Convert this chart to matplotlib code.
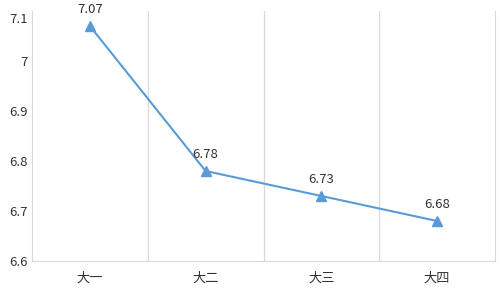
import matplotlib.pyplot as plt
import matplotlib.transforms as mtransforms
import numpy as np

plt.rcParams['font.family'] = ['Noto Sans CJK SC', 'DejaVu Sans']

grades = ["大一", "大二", "大三", "大四"]
scores = [7.07, 6.78, 6.73, 6.68]
yticks = [6.6, 6.7, 6.8, 6.9, 7.0, 7.1]
ytick_labels = ["6.6", "6.7", "6.8", "6.9", "7", "7.1"]

fig = plt.figure(figsize=(5, 2.9), dpi=100)
ax = fig.add_axes((0.064, 0.1, 0.926, 0.862))

x = np.arange(len(grades))
color = "#5B9BD5"
ax.plot(x, scores, color=color, lw=1.5, marker="^", markersize=6.5, clip_on=False)
for xi, yi in zip(x, scores):
    ax.annotate(f"{yi:.2f}", (xi, yi), xytext=(0, 7), textcoords="offset points",
                ha="center", va="bottom", fontsize=9.5, color="#333333")

ax.set_xlim(-0.5, len(grades) - 0.5)
ax.set_ylim(6.6, 7.1)
ax.set_yticks(yticks)
ax.set_yticklabels(ytick_labels)
ax.set_xticks(x)
ax.set_xticklabels(grades)
for b in np.arange(0.5, len(grades) - 1, 1):
    ax.axvline(b, color="#D9D9D9", lw=0.9, zorder=0)

for side in ["left", "bottom", "right"]:
    ax.spines[side].set_color("#D9D9D9")
ax.spines["top"].set_visible(False)
ax.tick_params(length=0, labelsize=9.5, colors="#333333")
ax.tick_params(axis="x", pad=8)
ax.tick_params(axis="y", pad=3)

# top label sits a little lower, as in the original
top = ax.get_yticklabels()[-1]
top.set_transform(top.get_transform() + mtransforms.ScaledTranslation(0, -5 / 72, fig.dpi_scale_trans))

fig.savefig("out.png", dpi=100)
